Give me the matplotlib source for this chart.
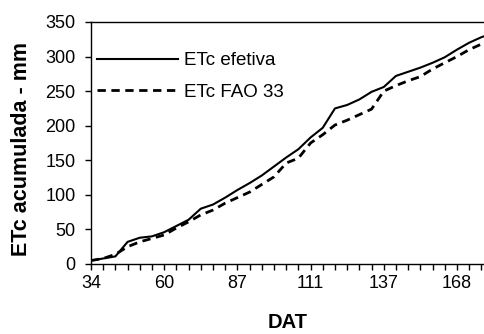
import numpy as np
import matplotlib
matplotlib.use("Agg")
import matplotlib.pyplot as plt

plt.rcParams["font.family"] = ["Liberation Sans", "DejaVu Sans"]

# DAT values shown as category labels (every 6th sample)
tick_labels = ["34", "60", "87", "111", "137", "168"]

etc_efetiva = [5, 8, 11, 32, 38, 40, 46, 55, 64, 80, 86, 96, 107, 117, 128, 141, 154,
               166, 183, 197, 225, 230, 238, 249, 256, 272, 278, 284, 291, 299, 310,
               320, 328, 334]
etc_fao33 = [5, 8, 14, 25, 32, 37, 42, 52, 61, 71, 78, 88, 96, 104, 115, 126, 146,
             153, 175, 187, 201, 208, 216, 224, 250, 258, 265, 271, 282, 291, 300,
             310, 318, 325]

x = np.arange(len(etc_efetiva))

W, H = 485, 334
fig = plt.figure(figsize=(W / 100, H / 100), dpi=100)
ax = fig.add_axes([91 / W, 1 - 264 / H, 1 - 91 / W, 242 / H])

ax.plot(x, etc_efetiva, color="black", lw=1.5, label="ETc efetiva")
ax.plot(x, etc_fao33, color="black", lw=2.0, linestyle=(0, (3, 2)), label="ETc FAO 33")

ax.set_xlim(0, 32.3)
ax.set_ylim(0, 350)
ax.set_yticks(np.arange(0, 351, 50))
ax.set_xticks(x[:33])
ax.set_xticklabels([tick_labels[i // 6] if i % 6 == 0 else "" for i in range(33)])
ax.tick_params(axis="both", direction="out", length=4, width=1, labelsize=13)
ax.tick_params(axis="x", pad=4)
ax.tick_params(axis="y", pad=7)

for s in ax.spines.values():
    s.set_linewidth(1)
ax.spines["right"].set_visible(False)

fig.text(22 / W, 1 - 149 / H, "ETc acumulada - mm", rotation=90, ha="center",
         va="center", fontsize=15.5, fontweight="bold")
fig.text(288 / W, 1 - 323 / H, "DAT", ha="center", va="center",
         fontsize=14.5, fontweight="bold")

ax.legend(loc="upper left", bbox_to_anchor=(-0.018, 0.93), frameon=False,
          fontsize=13.5, handlelength=4.3, handletextpad=0.35, labelspacing=0.76,
          borderpad=0.2)

fig.savefig("out.png", dpi=100)
